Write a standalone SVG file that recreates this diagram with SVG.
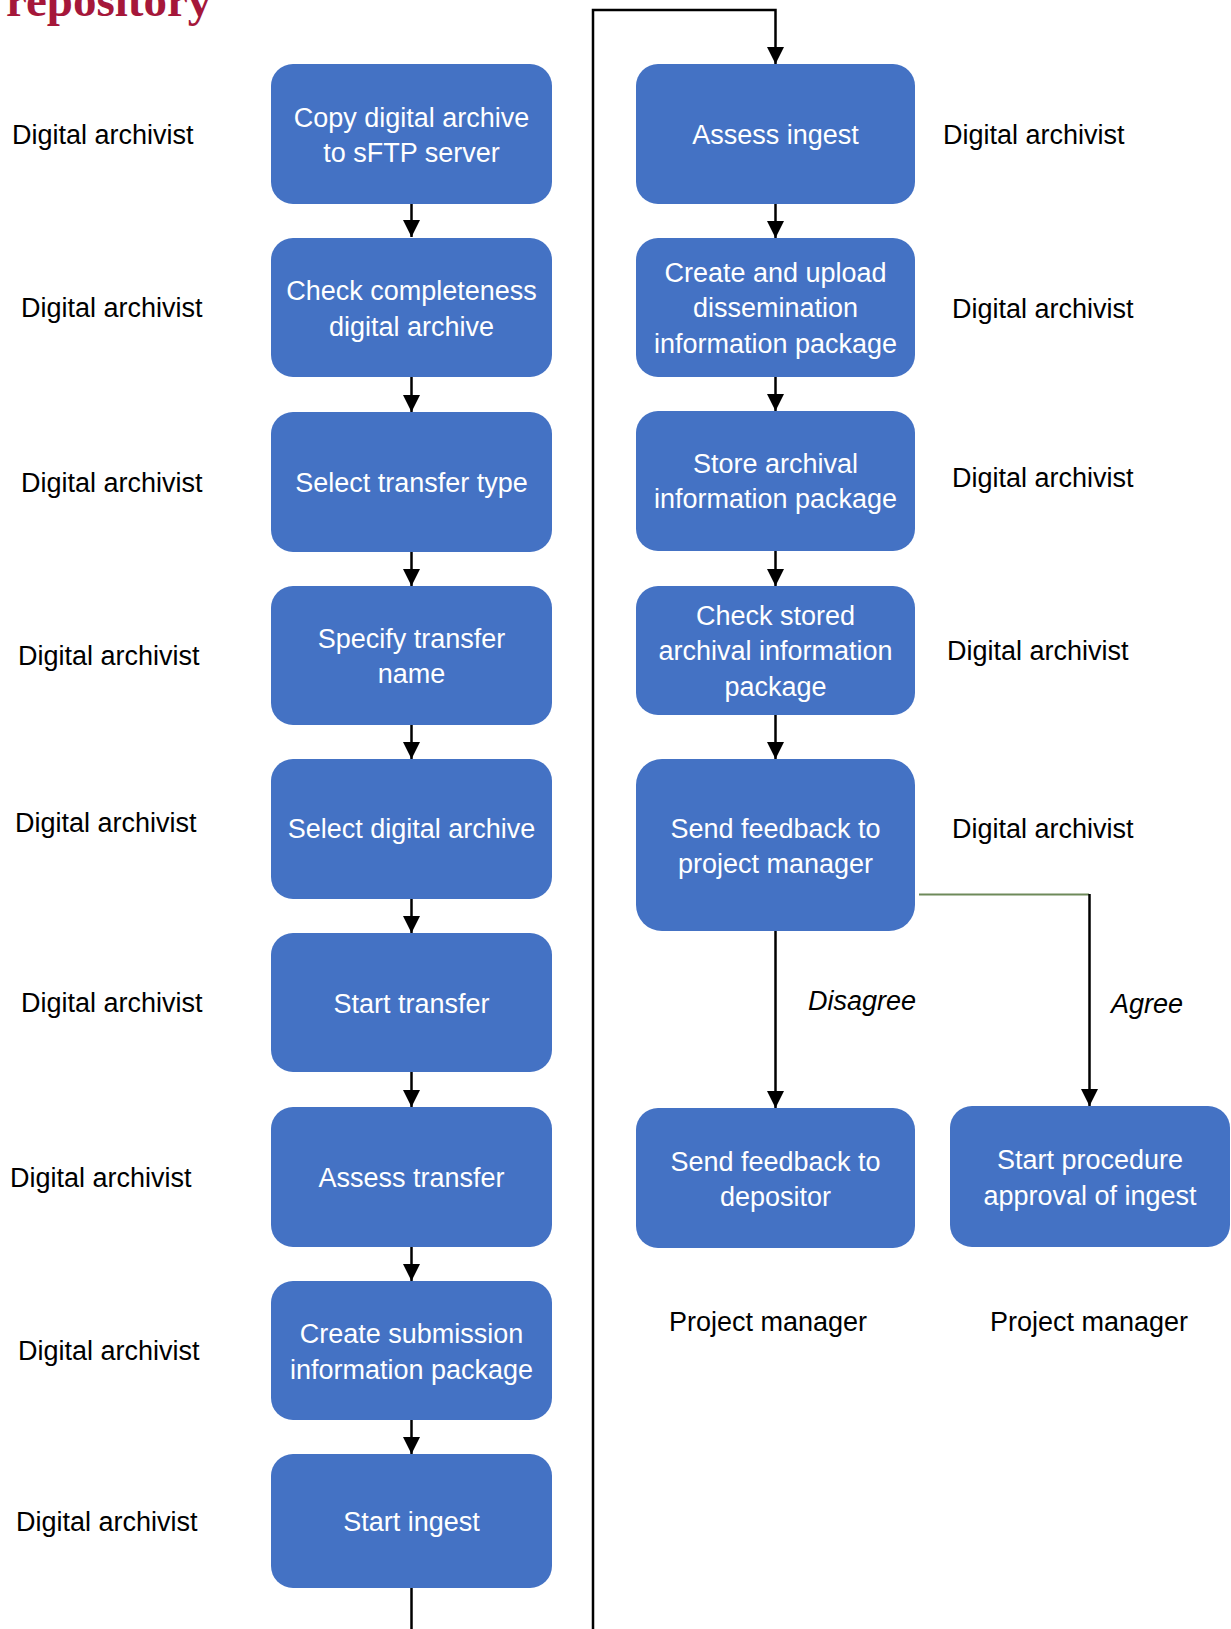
<svg xmlns="http://www.w3.org/2000/svg" width="1231" height="1629" viewBox="0 0 1231 1629">
<defs>
<marker id="arr" viewBox="0 0 16 16" refX="16" refY="8" markerWidth="17" markerHeight="17" markerUnits="userSpaceOnUse" orient="auto">
<path d="M0,0 L16,8 L0,16 Z" fill="#000"/>
</marker>
<style>
.box{fill:#4472C4;}
.bt{font-family:"Liberation Sans",Arial,sans-serif;font-size:27px;fill:#fff;text-anchor:middle;}
.lb{font-family:"Liberation Sans",Arial,sans-serif;font-size:27px;fill:#000;}
.it{font-family:"Liberation Sans",Arial,sans-serif;font-size:27px;fill:#000;font-style:italic;}
.c{fill:none;stroke:#000;stroke-width:2.5;}
.g{fill:none;stroke:#6E8A5A;stroke-width:2;}
</style>
</defs>
<rect width="1231" height="1629" fill="#fff"/>
<text x="6" y="16" font-family="'Liberation Serif',serif" font-weight="bold" font-size="47" fill="#A5173A">repository</text>

<g id="connectors">
<path class="c" d="M411.5,204 V237" marker-end="url(#arr)"/>
<path class="c" d="M411.5,377 V412" marker-end="url(#arr)"/>
<path class="c" d="M411.5,552 V586" marker-end="url(#arr)"/>
<path class="c" d="M411.5,725 V759" marker-end="url(#arr)"/>
<path class="c" d="M411.5,899 V933" marker-end="url(#arr)"/>
<path class="c" d="M411.5,1072 V1107" marker-end="url(#arr)"/>
<path class="c" d="M411.5,1247 V1281" marker-end="url(#arr)"/>
<path class="c" d="M411.5,1420 V1454" marker-end="url(#arr)"/>
<path class="c" d="M411.5,1588 V1629"/>
<path class="c" d="M593,1629 V10 H775.5 V64" marker-end="url(#arr)"/>
<path class="c" d="M775.5,204 V238" marker-end="url(#arr)"/>
<path class="c" d="M775.5,377 V411" marker-end="url(#arr)"/>
<path class="c" d="M775.5,551 V586" marker-end="url(#arr)"/>
<path class="c" d="M775.5,715 V759" marker-end="url(#arr)"/>
<path class="c" d="M775.5,931 V1108" marker-end="url(#arr)"/>
<path class="g" d="M919,894.5 H1089"/>
<path class="c" d="M1089.5,894 V1106" marker-end="url(#arr)"/>
<text class="it" x="808" y="1010">Disagree</text>
<text class="it" x="1111" y="1013">Agree</text>
</g>

<g id="n1"><rect class="box" x="271" y="64" width="281" height="140" rx="22"/><text class="bt" x="411.5" y="127">Copy digital archive</text><text class="bt" x="411.5" y="162">to sFTP server</text></g>
<g id="n2"><rect class="box" x="271" y="238" width="281" height="139" rx="22"/><text class="bt" x="411.5" y="300">Check completeness</text><text class="bt" x="411.5" y="336">digital archive</text></g>
<g id="n3"><rect class="box" x="271" y="412" width="281" height="140" rx="22"/><text class="bt" x="411.5" y="492">Select transfer type</text></g>
<g id="n4"><rect class="box" x="271" y="586" width="281" height="139" rx="22"/><text class="bt" x="411.5" y="648">Specify transfer</text><text class="bt" x="411.5" y="683">name</text></g>
<g id="n5"><rect class="box" x="271" y="759" width="281" height="140" rx="22"/><text class="bt" x="411.5" y="838">Select digital archive</text></g>
<g id="n6"><rect class="box" x="271" y="933" width="281" height="139" rx="22"/><text class="bt" x="411.5" y="1013">Start transfer</text></g>
<g id="n7"><rect class="box" x="271" y="1107" width="281" height="140" rx="22"/><text class="bt" x="411.5" y="1187">Assess transfer</text></g>
<g id="n8"><rect class="box" x="271" y="1281" width="281" height="139" rx="22"/><text class="bt" x="411.5" y="1343">Create submission</text><text class="bt" x="411.5" y="1379">information package</text></g>
<g id="n9"><rect class="box" x="271" y="1454" width="281" height="134" rx="22"/><text class="bt" x="411.5" y="1531">Start ingest</text></g>

<g id="r1"><rect class="box" x="636" y="64" width="279" height="140" rx="22"/><text class="bt" x="775.5" y="144">Assess ingest</text></g>
<g id="r2"><rect class="box" x="636" y="238" width="279" height="139" rx="22"/><text class="bt" x="775.5" y="282">Create and upload</text><text class="bt" x="775.5" y="317">dissemination</text><text class="bt" x="775.5" y="353">information package</text></g>
<g id="r3"><rect class="box" x="636" y="411" width="279" height="140" rx="22"/><text class="bt" x="775.5" y="473">Store archival</text><text class="bt" x="775.5" y="508">information package</text></g>
<g id="r4"><rect class="box" x="636" y="586" width="279" height="129" rx="22"/><text class="bt" x="775.5" y="625">Check stored</text><text class="bt" x="775.5" y="660">archival information</text><text class="bt" x="775.5" y="696">package</text></g>
<g id="r5"><rect class="box" x="636" y="759" width="279" height="172" rx="26"/><text class="bt" x="775.5" y="838">Send feedback to</text><text class="bt" x="775.5" y="873">project manager</text></g>
<g id="r6"><rect class="box" x="636" y="1108" width="279" height="140" rx="22"/><text class="bt" x="775.5" y="1171">Send feedback to</text><text class="bt" x="775.5" y="1206">depositor</text></g>
<g id="r7"><rect class="box" x="950" y="1106" width="280" height="141" rx="22"/><text class="bt" x="1090" y="1169">Start procedure</text><text class="bt" x="1090" y="1205">approval of ingest</text></g>

<g id="labels">
<text class="lb" x="12" y="144">Digital archivist</text>
<text class="lb" x="21" y="317">Digital archivist</text>
<text class="lb" x="21" y="492">Digital archivist</text>
<text class="lb" x="18" y="665">Digital archivist</text>
<text class="lb" x="15" y="832">Digital archivist</text>
<text class="lb" x="21" y="1012">Digital archivist</text>
<text class="lb" x="10" y="1187">Digital archivist</text>
<text class="lb" x="18" y="1360">Digital archivist</text>
<text class="lb" x="16" y="1531">Digital archivist</text>
<text class="lb" x="943" y="144">Digital archivist</text>
<text class="lb" x="952" y="318">Digital archivist</text>
<text class="lb" x="952" y="487">Digital archivist</text>
<text class="lb" x="947" y="660">Digital archivist</text>
<text class="lb" x="952" y="838">Digital archivist</text>
<text class="lb" x="768" y="1331" text-anchor="middle">Project manager</text>
<text class="lb" x="1089" y="1331" text-anchor="middle">Project manager</text>
</g>
</svg>
